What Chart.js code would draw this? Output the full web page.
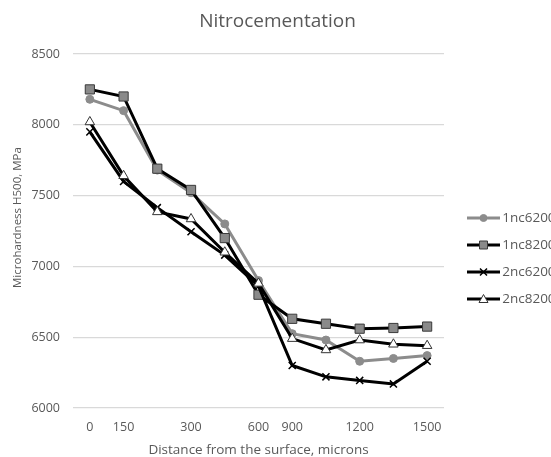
<!DOCTYPE html>
<html><head><meta charset="utf-8">
<script src="https://cdn.jsdelivr.net/npm/chart.js@4"></script>
<style>html,body{margin:0;padding:0;background:#fff;overflow:hidden}</style>
</head><body>
<canvas id="c" width="551" height="457" style="display:block"></canvas>
<script>
const categories = ['0', '150', '', '300', '', '600', '900', '', '1200', '', '1500'];
const series1nc6200 = [8180, 8100, 7680, 7520, 7300, 6900, 6525, 6480, 6330, 6350, 6370];
const series1nc8200 = [8250, 8200, 7690, 7540, 7200, 6800, 6630, 6595, 6560, 6565, 6575];
const series2nc6200 = [7950, 7600, 7415, 7245, 7080, 6860, 6300, 6220, 6195, 6170, 6330];
const series2nc8200 = [8020, 7640, 7385, 7335, 7100, 6880, 6490, 6410, 6480, 6450, 6440];
const seriesNames = ['1nc6200', '1nc8200', '2nc6200', '2nc8200'];
const yTicks = {min: 6000, max: 8500, step: 500};

const TEXT = '#595959';
const FONT = '"Open Sans", Lato, sans-serif';

const styles = [
  {line: '#8c8c8c', marker: 'circle', r: 4, fill: '#8c8c8c', stroke: '#8c8c8c', bw: 1},
  {line: '#000000', marker: 'rect', r: 6.5, fill: '#8a8a8a', stroke: '#3a3a3a', bw: 1},
  {line: '#000000', marker: 'crossRot', r: 5, fill: '#000000', stroke: '#000000', bw: 1.5},
  {line: '#000000', marker: 'triangle', r: 5.5, fill: '#ffffff', stroke: '#333333', bw: 1}
];

function legendIcon(s) {
  const c = document.createElement('canvas');
  c.width = 47; c.height = 14;
  const g = c.getContext('2d');
  g.strokeStyle = s.line; g.lineWidth = 3;
  g.beginPath(); g.moveTo(14, 7); g.lineTo(47, 7); g.stroke();
  const x = 30.5, y = 7;
  g.fillStyle = s.fill; g.strokeStyle = s.stroke; g.lineWidth = s.bw;
  g.beginPath();
  if (s.marker === 'circle') { g.arc(x, y, 3.5, 0, Math.PI * 2); g.fill(); g.stroke(); }
  else if (s.marker === 'rect') { g.rect(x - 4, y - 4, 8, 8); g.fill(); g.stroke(); }
  else if (s.marker === 'crossRot') { g.moveTo(x - 3.5, y - 3.5); g.lineTo(x + 3.5, y + 3.5); g.moveTo(x + 3.5, y - 3.5); g.lineTo(x - 3.5, y + 3.5); g.stroke(); }
  else { g.moveTo(x, y - 4.5); g.lineTo(x + 4.5, y + 3.5); g.lineTo(x - 4.5, y + 3.5); g.closePath(); g.fill(); g.stroke(); }
  return c;
}

const seriesData = [series1nc6200, series1nc8200, series2nc6200, series2nc8200];
const datasets = seriesData.map((d, i) => ({
  label: seriesNames[i],
  data: d,
  order: 4 - i,
  borderColor: styles[i].line,
  backgroundColor: styles[i].fill,
  borderWidth: 3,
  tension: 0,
  fill: false,
  pointStyle: styles[i].marker,
  pointRadius: styles[i].r,
  pointBackgroundColor: styles[i].fill,
  pointBorderColor: styles[i].stroke,
  pointBorderWidth: styles[i].bw
}));
const icons = styles.map(legendIcon);

new Chart(document.getElementById('c'), {
  type: 'line',
  data: {labels: categories, datasets},
  options: {
    responsive: false,
    animation: false,
    layout: {padding: {left: 4, right: 0, top: 0, bottom: 0}},
    plugins: {
      tooltip: {enabled: false},
      title: {
        display: true, text: 'Nitrocementation', color: TEXT,
        font: {family: FONT, size: 19, weight: 'normal'},
        padding: {top: 10, bottom: 21.2}
      },
      legend: {
        position: 'right',
        maxWidth: 107,
        title: {display: true, text: ' ', font: {size: 12}, padding: {top: 45.6, bottom: 0}},
        labels: {
          usePointStyle: true,
          pointStyleWidth: 38,
          padding: 13.5,
          color: TEXT,
          font: {family: FONT, size: 13.5},
          generateLabels: () => seriesNames.map((n, i) => ({
            text: n, pointStyle: icons[i], fillStyle: styles[i].fill,
            strokeStyle: styles[i].line, lineWidth: 0, hidden: false, datasetIndex: i, fontColor: TEXT
          }))
        }
      }
    },
    scales: {
      x: {
        type: 'category',
        offset: true,
        grid: {display: false, drawTicks: false},
        border: {display: false},
        ticks: {color: TEXT, font: {family: FONT, size: 12.5}, padding: 12, autoSkip: false, maxRotation: 0},
        title: {display: true, text: 'Distance from the surface, microns', color: TEXT,
          font: {family: FONT, size: 13.5}, padding: {top: -5.2, bottom: -1}}
      },
      y: {
        min: yTicks.min, max: yTicks.max,
        grid: {color: '#d9d9d9', lineWidth: 1.3, drawTicks: false},
        border: {display: false},
        ticks: {stepSize: yTicks.step, color: TEXT, font: {family: FONT, size: 12.5}, padding: 13,
          callback: (v) => String(v)},
        title: {display: true, text: '         Microhardness H500, MPa', color: TEXT,
          font: {family: FONT, size: 11.5}, padding: {top: 6.6, bottom: -6}}
      }
    }
  }
});
</script>
</body></html>
